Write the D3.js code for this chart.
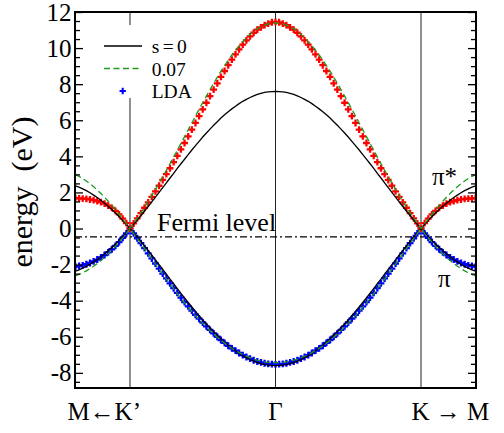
<!DOCTYPE html>
<html><head><meta charset="utf-8">
<script src="https://cdn.jsdelivr.net/npm/d3@7"></script>
<style>
html,body{margin:0;padding:0;background:#fff;}
svg{display:block;}
text{font-family:"Liberation Serif","Times New Roman",serif;fill:#000;}
</style>
</head><body>
<svg id="c" width="504" height="433"></svg>
<script>
// ---- data (path Γ→K→M, the K'←Γ half is its mirror image) ----
const kHalf = d3.range(56).map(i => i * 0.025);           // sampling grid, Γ=0, K=1
const kPoints = [-1, 0, 1];
const kLabels = ["M\u2190K\u2019", "\u0393", "K \u2192 M"];
const yMajorTicks = [-8, -6, -4, -2, 0, 2, 4, 6, 8, 10, 12];
const fermiLevel = -0.46;
const legendLabels = ["s = 0", "0.07", "LDA"];

const sZeroUp = [7.60,7.59,7.57,7.54,7.49,7.43,7.35,7.26,7.16,7.05,6.92,6.78,6.63,6.47,6.30,6.12,5.92,5.72,5.51,5.29,5.07,4.83,4.59,4.35,4.10,3.84,3.59,3.33,3.06,2.80,2.53,2.27,2.00,1.74,1.48,1.22,0.97,0.72,0.47,0.23,0.00,0.23,0.45,0.66,0.86,1.05,1.23,1.40,1.57,1.72,1.85,1.98,2.10,2.20,2.29,2.36];
const sZeroDown = [-7.60,-7.59,-7.57,-7.54,-7.49,-7.43,-7.35,-7.26,-7.16,-7.05,-6.92,-6.78,-6.63,-6.47,-6.30,-6.12,-5.92,-5.72,-5.51,-5.29,-5.07,-4.83,-4.59,-4.35,-4.10,-3.84,-3.59,-3.33,-3.06,-2.80,-2.53,-2.27,-2.00,-1.74,-1.48,-1.22,-0.97,-0.72,-0.47,-0.23,0.00,-0.23,-0.45,-0.66,-0.86,-1.05,-1.23,-1.40,-1.57,-1.72,-1.85,-1.98,-2.10,-2.20,-2.29,-2.36];
const s007Up = [11.39,11.38,11.34,11.27,11.18,11.07,10.93,10.76,10.57,10.36,10.13,9.88,9.62,9.33,9.03,8.72,8.39,8.05,7.70,7.34,6.98,6.61,6.23,5.85,5.47,5.09,4.72,4.34,3.96,3.59,3.23,2.87,2.51,2.17,1.83,1.50,1.18,0.87,0.57,0.28,0.00,0.27,0.53,0.79,1.04,1.28,1.51,1.73,1.94,2.13,2.32,2.48,2.63,2.77,2.89,2.99];
const s007Down = [-7.44,-7.43,-7.42,-7.39,-7.35,-7.30,-7.24,-7.16,-7.08,-6.99,-6.88,-6.76,-6.64,-6.50,-6.35,-6.20,-6.03,-5.85,-5.66,-5.47,-5.26,-5.05,-4.83,-4.60,-4.36,-4.12,-3.87,-3.61,-3.34,-3.08,-2.80,-2.53,-2.25,-1.97,-1.68,-1.40,-1.12,-0.83,-0.55,-0.27,0.00,-0.27,-0.52,-0.76,-0.99,-1.21,-1.41,-1.60,-1.78,-1.94,-2.09,-2.22,-2.35,-2.45,-2.55,-2.62];
const ldaPiStar = [11.45,11.43,11.36,11.27,11.15,11.02,10.85,10.65,10.43,10.19,9.93,9.65,9.36,9.05,8.73,8.40,8.05,7.70,7.34,6.97,6.60,6.23,5.85,5.48,5.11,4.74,4.39,4.03,3.68,3.34,3.01,2.69,2.37,2.06,1.75,1.45,1.15,0.85,0.56,0.28,0.00,0.30,0.55,0.78,0.98,1.14,1.27,1.38,1.46,1.52,1.57,1.61,1.64,1.66,1.67,1.68];
const ldaPi = [-7.53,-7.52,-7.50,-7.47,-7.42,-7.37,-7.30,-7.21,-7.12,-7.02,-6.90,-6.77,-6.64,-6.50,-6.34,-6.18,-6.00,-5.81,-5.62,-5.42,-5.21,-5.00,-4.78,-4.55,-4.32,-4.08,-3.83,-3.57,-3.31,-3.04,-2.77,-2.50,-2.22,-1.94,-1.66,-1.38,-1.09,-0.81,-0.54,-0.27,0.00,-0.27,-0.52,-0.75,-0.96,-1.15,-1.32,-1.47,-1.60,-1.72,-1.82,-1.91,-1.98,-2.04,-2.08,-2.11];

// ---- build full path M←K'–Γ–K→M ----
const kAll = kHalf.slice(1).reverse().map(v => -v).concat(kHalf);
const full = a => a.slice(1).reverse().concat(a);
const pts = a => full(a).map((e, i) => [kAll[i], e]);

const W = 504, H = 433;
const L = 75, R = 476, T = 12, B = 388;
const x = d3.scaleLinear().domain([-1.378, 1.378]).range([L, R]);
const y = d3.scaleLinear().domain([-8.84, 12]).range([B, T]);

const svg = d3.select("#c");
svg.append("rect").attr("width", W).attr("height", H).attr("fill", "#fff");
svg.append("clipPath").attr("id", "clip").append("rect")
  .attr("x", L).attr("y", T).attr("width", R - L).attr("height", B - T);
const plot = svg.append("g").attr("clip-path", "url(#clip)");

// vertical symmetry-point lines
plot.selectAll("line.kp").data(kPoints).join("line")
  .attr("x1", d => x(d)).attr("x2", d => x(d)).attr("y1", T).attr("y2", B)
  .attr("stroke", "#222").attr("stroke-width", 1);

// Fermi level
plot.append("line").attr("x1", L).attr("x2", R)
  .attr("y1", y(fermiLevel)).attr("y2", y(fermiLevel))
  .attr("stroke", "#000").attr("stroke-width", 1.2).attr("stroke-dasharray", "7,3,2,3");

// LDA markers
const cross = d3.symbol().type(d3.symbolCross).size(26);
plot.append("g").selectAll("path").data(pts(ldaPi)).join("path")
  .attr("d", cross).attr("transform", d => `translate(${x(d[0])},${y(d[1])})`).attr("fill", "#0000ff");
plot.append("g").selectAll("path").data(pts(ldaPiStar)).join("path")
  .attr("d", cross).attr("transform", d => `translate(${x(d[0])},${y(d[1])})`).attr("fill", "#ff0000");

// tight-binding lines
const line = d3.line().x(d => x(d[0])).y(d => y(d[1]));
[sZeroUp, sZeroDown].forEach(a => plot.append("path").attr("d", line(pts(a)))
  .attr("fill", "none").attr("stroke", "#000").attr("stroke-width", 1.3));
[s007Up, s007Down].forEach(a => plot.append("path").attr("d", line(pts(a)))
  .attr("fill", "none").attr("stroke", "#1c9a1c").attr("stroke-width", 1.3).attr("stroke-dasharray", "6,3.5"));

// legend
const lg = svg.append("g");
lg.append("rect").attr("x", 96).attr("y", 25).attr("width", 104).attr("height", 73).attr("fill", "#fff");
lg.append("line").attr("x1", 104).attr("x2", 142).attr("y1", 46).attr("y2", 46)
  .attr("stroke", "#000").attr("stroke-width", 1.3);
lg.append("line").attr("x1", 104).attr("x2", 142).attr("y1", 68.5).attr("y2", 68.5)
  .attr("stroke", "#1c9a1c").attr("stroke-width", 1.3).attr("stroke-dasharray", "6,3.5");
lg.append("path").attr("d", d3.symbol().type(d3.symbolCross).size(22)).attr("transform", "translate(122.7,91)").attr("fill", "#0000ff");
lg.selectAll("text").data(legendLabels).join("text")
  .attr("x", 151.7).attr("y", (d, i) => [53, 75.5, 98][i])
  .attr("font-size", 19.5).style("word-spacing", "-1.5px").style("white-space", "pre").text(d => d);

// axes
const fmt = d => String(d);
const minor = d3.range(-8.5, 12.01, 0.5).filter(v => !yMajorTicks.includes(v));
const gl = svg.append("g").attr("transform", `translate(${L},0)`);
gl.call(d3.axisLeft(y).tickValues(yMajorTicks).tickSize(-8).tickPadding(3.5).tickFormat(fmt));
gl.append("g").call(d3.axisLeft(y).tickValues(minor).tickSize(-5).tickFormat(""));
const gr = svg.append("g").attr("transform", `translate(${R},0)`);
gr.call(d3.axisRight(y).tickValues(yMajorTicks).tickSize(-8).tickFormat(""));
gr.append("g").call(d3.axisRight(y).tickValues(minor).tickSize(-5).tickFormat(""));
svg.selectAll(".domain").remove();
svg.selectAll(".tick line").attr("stroke", "#000").attr("stroke-width", 1.3);
gl.selectAll(".tick text").attr("font-size", 25).attr("font-family", "Liberation Serif, serif").attr("fill", "#000");

svg.append("rect").attr("x", L).attr("y", T).attr("width", R - L).attr("height", B - T)
  .attr("fill", "none").attr("stroke", "#000").attr("stroke-width", 2);

// x labels
const anchors = ["end", "middle", "start"];
const offs = [11, 0, -9.5];
svg.selectAll("text.kl").data(kPoints).join("text").attr("class", "kl")
  .attr("x", (d, i) => x(d) + offs[i]).attr("y", 420)
  .attr("text-anchor", (d, i) => anchors[i]).attr("font-size", 25)
  .text((d, i) => kLabels[i]);

// y label
svg.append("text").attr("transform", "translate(32,192) rotate(-90)")
  .attr("text-anchor", "middle").attr("font-size", 30).style("white-space", "pre")
  .text("energy  (eV)");

// annotations
svg.append("text").attr("x", 157).attr("y", 231).attr("font-size", 26).text("Fermi level");
svg.append("text").attr("x", 432).attr("y", 185).attr("font-size", 25).text("\u03c0*");
svg.append("text").attr("x", 438).attr("y", 287).attr("font-size", 25).text("\u03c0");
</script>
</body></html>
